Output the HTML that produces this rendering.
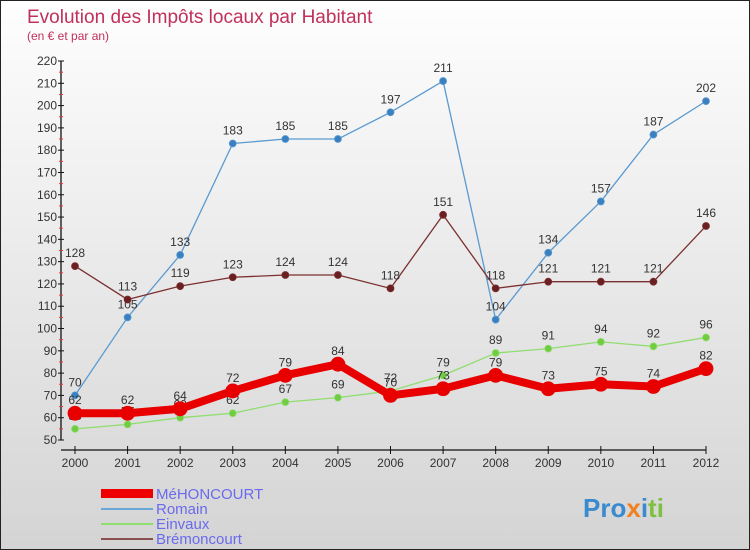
<!DOCTYPE html>
<html><head><meta charset="utf-8"><style>
body{margin:0}
#c{width:748px;height:548px;border:1px solid #222;background:linear-gradient(#fefefe,#d4d4d4);position:relative;font-family:"Liberation Sans",sans-serif;overflow:hidden}
</style></head><body>
<div id="c">
<svg id="s" width="748" height="548" xmlns="http://www.w3.org/2000/svg">
<text x="26" y="22" font-size="19" fill="#c0305a">Evolution des Impôts locaux par Habitant</text>
<text x="26" y="39" font-size="12" fill="#c0305a">(en € et par an)</text>
<g id="axes"></g><g id="series"></g>
<g>
<rect x="100" y="488" width="52" height="9" fill="#e00"/>
<text x="155" y="498" font-size="15" fill="#6a6aee">MéHONCOURT</text>
<rect x="100" y="507" width="52" height="2" fill="#6aa6d6"/>
<text x="155" y="513" font-size="15" fill="#6a6aee">Romain</text>
<rect x="100" y="522" width="52" height="2" fill="#90dd70"/>
<text x="155" y="528" font-size="15" fill="#6a6aee">Einvaux</text>
<rect x="100" y="537" width="52" height="2" fill="#8a5050"/>
<text x="155" y="543" font-size="15" fill="#6a6aee">Brémoncourt</text>
</g>
<text x="582" y="516" font-size="26" font-weight="bold"><tspan fill="#3a8ad0">Pro</tspan><tspan fill="#f08020">x</tspan><tspan fill="#3a8ad0">i</tspan><tspan fill="#80c040">ti</tspan></text>
</svg></div>
<script>
const years=[2000,2001,2002,2003,2004,2005,2006,2007,2008,2009,2010,2011,2012];
const yTicks=[50,60,70,80,90,100,110,120,130,140,150,160,170,180,190,200,210,220];
const mehoncourt=[62,62,64,72,79,84,70,73,79,73,75,74,82];
const romain=[70,105,133,183,185,185,197,211,104,134,157,187,202];
const einvaux=[55,57,60,62,67,69,72,79,89,91,94,92,96];
const bremoncourt=[128,113,119,123,124,124,118,151,118,121,121,121,146];
const NS="http://www.w3.org/2000/svg";
function X(i){return 74+i*(705-74)/(years.length-1);}
function Y(v){return 439-(v-50)*(439-60)/170;}
function mk(t,a,p){const e=document.createElementNS(NS,t);for(const k in a)e.setAttribute(k,a[k]);p.appendChild(e);return e;}
const ax=document.getElementById('axes');
mk('line',{x1:60,y1:Y(220),x2:60,y2:Y(50),stroke:'#111','stroke-width':1.3},ax);
mk('line',{x1:60,y1:449,x2:X(12),y2:449,stroke:'#111','stroke-width':1.3},ax);
yTicks.forEach(v=>{mk('line',{x1:57,y1:Y(v),x2:63,y2:Y(v),stroke:'#111'},ax);
 if(v<220)mk('line',{x1:58,y1:Y(v+5),x2:62,y2:Y(v+5),stroke:'#e33'},ax);
 const t=mk('text',{x:56,y:Y(v)+4,'font-size':12,'text-anchor':'end',fill:'#333'},ax);t.textContent=v;
 
 });
years.forEach((yr,i)=>{mk('line',{x1:X(i),y1:445,x2:X(i),y2:453,stroke:'#111'},ax);
 const t=mk('text',{x:X(i),y:466,'font-size':12,'text-anchor':'middle',fill:'#333'},ax);t.textContent=yr;
 
 });
const sg=document.getElementById('series');
function draw(name,data,color,w,r,dot){
 const g=mk('g',{},sg);
 
 
 mk('polyline',{points:data.map((v,i)=>X(i)+','+Y(v)).join(' '),fill:'none',stroke:color,'stroke-width':w,'stroke-linejoin':'round'},g);
 data.forEach((v,i)=>{const c=mk('circle',{cx:X(i),cy:Y(v),r:r,fill:dot,stroke:color,'stroke-width':0.8},g);
  
  
  const t=mk('text',{x:X(i),y:Y(v)-9,'font-size':12,'text-anchor':'middle',fill:'#333'},g);t.textContent=v;
  
  });
}
draw('romain',romain,'#5a9ad0',1.3,3.5,'#3a80c0');
draw('bremoncourt',bremoncourt,'#7a3030',1.3,3.5,'#6a2020');
draw('einvaux',einvaux,'#90dd70',1.3,3.5,'#70cc40');
draw('mehoncourt',mehoncourt,'#e80000',8,7,'#e80000');
</script>
</body></html>
